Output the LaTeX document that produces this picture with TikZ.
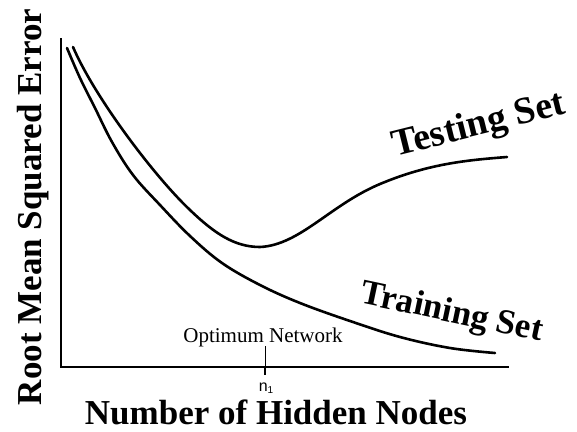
\documentclass[tikz,border=0pt]{standalone}
\usepackage{fontspec}
\setmainfont{Liberation Serif}
\newfontfamily\labelsans{Liberation Sans}
\begin{document}
\begin{tikzpicture}[x=1pt,y=-1pt,
  axisline/.style={line width=2.4pt,line cap=rect},
  curveline/.style={line width=2.6pt,line cap=round,line join=round},
  bigbold/.style={font=\fontsize{35}{35}\selectfont\bfseries,inner sep=0pt},
  curvelabel/.style={font=\fontsize{38}{38}\selectfont\bfseries,inner sep=0pt,anchor=base}]
  \useasboundingbox (0,0) rectangle (577,431);

  % axes
  \coordinate (top) at (61,39);
  \coordinate (origin) at (61,367);
  \coordinate (xend) at (508,367);
  \draw[axisline] (top) -- (origin) -- (xend);

  % testing-set error curve
  \draw[curveline] (73,47) .. controls (95,98) and (155,177) .. (190,210)
    .. controls (215,234) and (235,247) .. (260,247)
    .. controls (300,245) and (330,205) .. (380,184)
    .. controls (430,163) and (470,160) .. (507,157);

  % training-set error curve
  \draw[curveline] plot[smooth,tension=0.6] coordinates {
    (67,48) (80,78) (95,108) (112,142) (133,175) (160,205) (190,236)
    (222,263) (260,285) (300,303) (350,321) (400,337) (450,348) (495,353)};

  % optimum marker on the x axis
  \coordinate (tickTop) at (265,346);
  \coordinate (tickAxis) at (265,367);
  \coordinate (tickBot) at (265,375);
  \draw[line width=1pt] (tickTop) -- (tickAxis);
  \draw[line width=2.2pt] (tickAxis) -- (tickBot);
  \node[font=\fontsize{21}{21}\selectfont,inner sep=0pt,anchor=base] (opt) at (263,342) {Optimum Network};
  \node[font=\labelsans\fontsize{16}{16}\selectfont,inner sep=0pt] (n1) at (266,388)
    {n\raisebox{-2.5pt}{\fontsize{10}{10}\selectfont 1}};

  % curve labels
  \node[curvelabel,rotate=14] (testing) at (481,135) {Testing Set};
  \node[curvelabel,font=\fontsize{35}{35}\selectfont\bfseries,rotate=-12] (training) at (450,322) {Training Set};

  % axis titles
  \node[bigbold,rotate=90] (ylabel) at (33,207) {Root Mean Squared Error};
  \node[bigbold,anchor=base] (xlabel) at (276,424) {Number of Hidden Nodes};
\end{tikzpicture}
\end{document}
